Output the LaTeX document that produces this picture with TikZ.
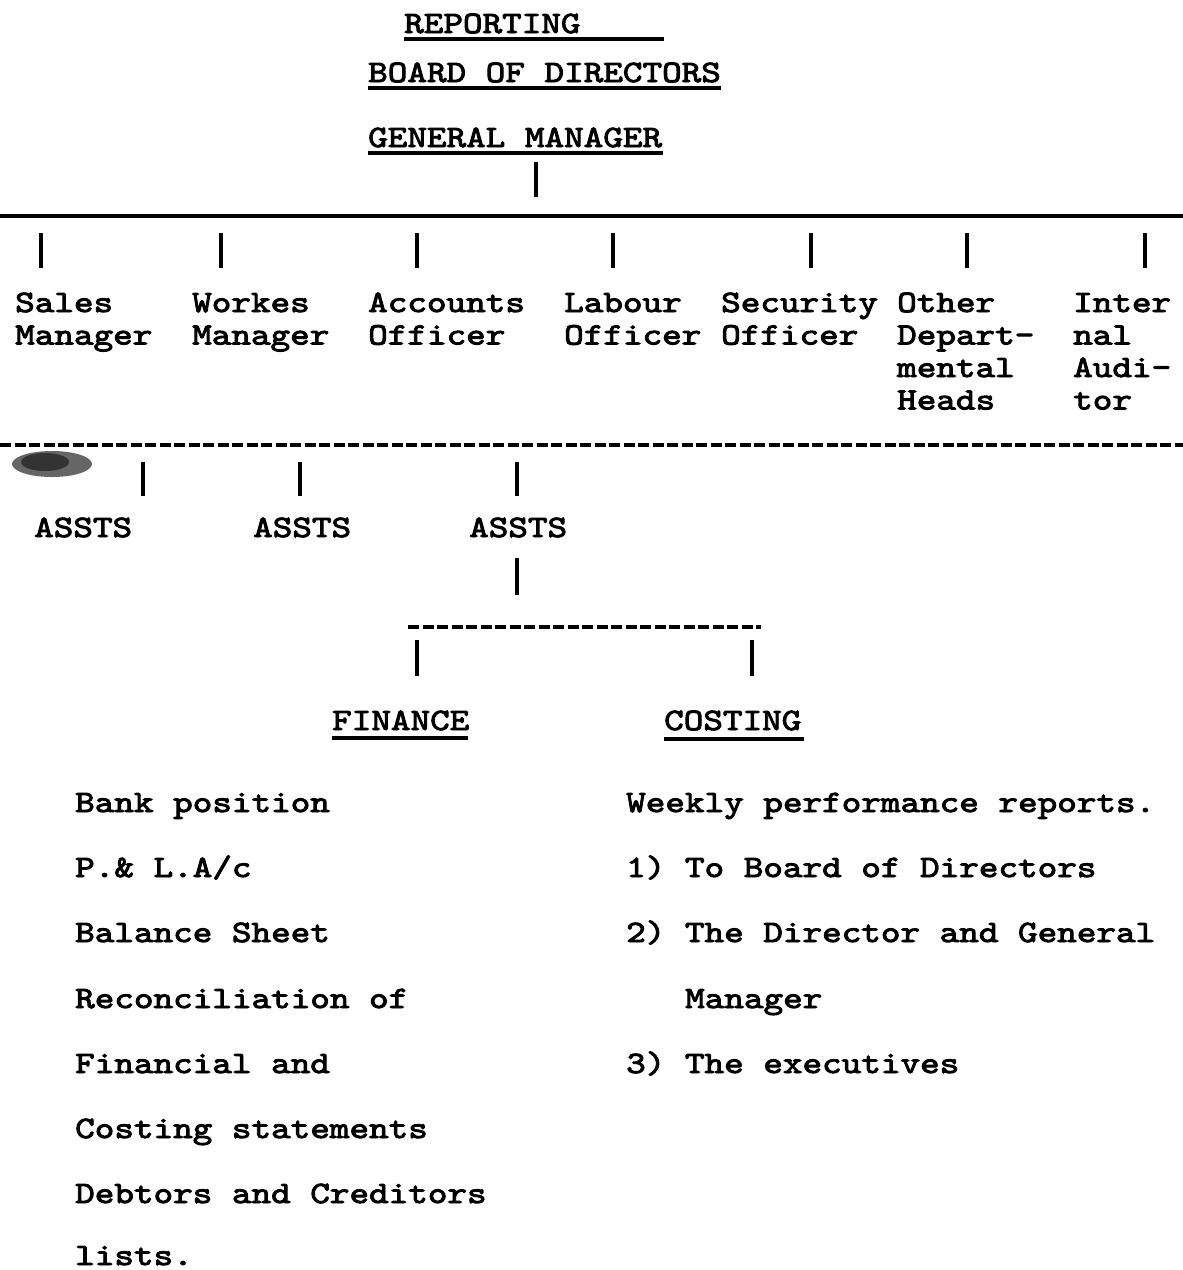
\documentclass[tikz,border=0pt]{standalone}
\usepackage{fontspec}
\newfontfamily\twf{lmmono10-regular.otf}[FakeStretch=1.2,FakeBold=3]
\begin{document}
\begin{tikzpicture}[x=1pt,y=-1pt,
  tw/.style={font=\twf\fontsize{31.1}{31.1}\selectfont, inner sep=0pt, anchor=base west},
  bar/.style={line width=4pt},
  rulel/.style={line width=4pt},
  dashrule/.style={line width=4.5pt, dash pattern=on 11pt off 3.5pt}]
\useasboundingbox (0,0) rectangle (1183,1270);
% headings
\node[tw] (rep) at (404,33) {REPORTING};
\node[tw] (bod) at (368,82) {BOARD OF DIRECTORS};
\node[tw] (gm)  at (368,147) {GENERAL MANAGER};
\draw[rulel] (404,39) -- (664,39);
\draw[rulel] (368,87.5) -- (721,87.5);
\draw[rulel] (368,153) -- (663,153);
% GM connector and top line
\coordinate (gmA) at (536,162); \coordinate (gmB) at (536,197);
\draw[bar] (gmA) -- (gmB);
\coordinate (topL) at (0,216); \coordinate (topR) at (1183,216);
\draw[rulel] (topL) -- (topR);
% bars to departments
\foreach \n/\x in {b1/41,b2/221,b3/417,b4/613,b5/811,b6/967,b7/1145}{
  \coordinate (\n a) at (\x,233); \coordinate (\n b) at (\x,268);
  \draw[bar] (\n a) -- (\n b);
}
% department labels
\node[tw] (sal1) at (15,312) {Sales};
\node[tw] (sal2) at (15,344.5) {Manager};
\node[tw] (wor1) at (192,312) {Workes};
\node[tw] (wor2) at (192,344.5) {Manager};
\node[tw] (acc1) at (368,312) {Accounts};
\node[tw] (acc2) at (368,344.5) {Officer};
\node[tw] (lab1) at (564,312) {Labour};
\node[tw] (lab2) at (564,344.5) {Officer};
\node[tw] (sec1) at (721,312) {Security};
\node[tw] (sec2) at (721,344.5) {Officer};
\node[tw] (oth1) at (897,312) {Other};
\node[tw] (oth2) at (897,344.5) {Depart-};
\node[tw] (oth3) at (897,377) {mental};
\node[tw] (oth4) at (897,409.5) {Heads};
\node[tw] (int1) at (1073,312) {Inter};
\node[tw] (int2) at (1073,344.5) {nal};
\node[tw] (int3) at (1073,377) {Audi-};
\node[tw] (int4) at (1073,409.5) {tor};
% second line
\coordinate (midL) at (0,445); \coordinate (midR) at (1183,445);
\draw[dashrule] (midL) -- (midR);
\fill[black!60] (52,464) ellipse (40pt and 13pt);
\fill[black!80] (45,462) ellipse (24pt and 9pt);
\foreach \n/\x in {c1/143,c2/300,c3/517}{
  \coordinate (\n a) at (\x,462); \coordinate (\n b) at (\x,496);
  \draw[bar] (\n a) -- (\n b);
}
\node[tw] (as1) at (34,537) {ASSTS};
\node[tw] (as2) at (253,537) {ASSTS};
\node[tw] (as3) at (469,537) {ASSTS};
\coordinate (asA) at (517,558); \coordinate (asB) at (517,595);
\draw[bar] (asA) -- (asB);
\coordinate (finL) at (408,627); \coordinate (finR) at (761,627);
\draw[dashrule] (finL) -- (finR);
\coordinate (d1a) at (417,640); \coordinate (d1b) at (417,676);
\coordinate (d2a) at (752,640); \coordinate (d2b) at (752,676);
\draw[bar] (d1a) -- (d1b);
\draw[bar] (d2a) -- (d2b);
\node[tw] (fin) at (332,730) {FINANCE};
\node[tw] (cos) at (664,730) {COSTING};
\draw[rulel] (332,738) -- (468,738);
\draw[rulel] (664,739) -- (804,739);
% finance list
\node[tw] (l1) at (75,812) {Bank position};
\node[tw] (l2) at (75,877) {P.\& L.A/c};
\node[tw] (l3) at (75,942) {Balance Sheet};
\node[tw] (l4) at (75,1008) {Reconciliation of};
\node[tw] (l5) at (75,1073) {Financial and};
\node[tw] (l6) at (75,1138) {Costing statements};
\node[tw] (l7) at (75,1203) {Debtors and Creditors};
\node[tw] (l8) at (75,1265) {lists.};
% costing list
\node[tw] (r1) at (626,812) {Weekly performance reports.};
\node[tw] (r2) at (626,877) {1) To Board of Directors};
\node[tw] (r3) at (626,942) {2) The Director and General};
\node[tw] (r4) at (685,1008) {Manager};
\node[tw] (r5) at (626,1073) {3) The executives};
\end{tikzpicture}
\end{document}
